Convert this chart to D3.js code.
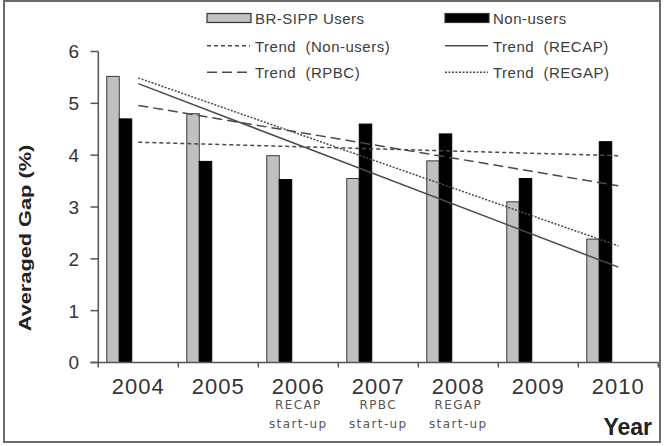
<!DOCTYPE html>
<html>
<head>
<meta charset="utf-8">
<script src="https://cdn.jsdelivr.net/npm/d3@7"></script>
<style>
  body { margin: 0; background: #fff; }
  text { font-family: "Liberation Sans", Arial, sans-serif; }
</style>
</head>
<body>
<div id="chart"></div>
<script>
// chart values
const years = ["2004", "2005", "2006", "2007", "2008", "2009", "2010"];
const startLabels = ["", "", "RECAP", "RPBC", "REGAP", "", ""];
const usersGap = [5.52, 4.8, 3.99, 3.55, 3.89, 3.1, 2.38];
const nonUsersGap = [4.7, 3.88, 3.53, 4.6, 4.41, 3.55, 4.26];
const trendNames = ["Trend (Non-users)", "Trend (RECAP)", "Trend (RPBC)", "Trend (REGAP)"];
const trendStart = [4.25, 5.38, 4.96, 5.49];
const trendEnd = [3.99, 1.84, 3.41, 2.25];
const yTicks = [0, 1, 2, 3, 4, 5, 6];

const W = 664, H = 446;
const dashes = {
  "Trend (Non-users)": "4,3",
  "Trend (RECAP)": null,
  "Trend (RPBC)": "10,5",
  "Trend (REGAP)": "2,1.5"
};

const svg = d3.select("#chart").append("svg")
  .attr("width", W).attr("height", H);

// outer frame
svg.append("rect")
  .attr("x", 4).attr("y", 1).attr("width", 656).attr("height", 441)
  .attr("fill", "#fff").attr("stroke", "#6a6a6a").attr("stroke-width", 2);

const x = d3.scaleBand().domain(years).range([98.3, 658.3]);
const y = d3.scaleLinear().domain([0, 6]).range([362.5, 51.5]);
const bw = x.bandwidth();
const barW = bw * 0.156;
const barOff = bw * 0.106;

// trend lines
const trendX = d3.scaleLinear().domain([0, years.length - 1])
  .range([x(years[0]) + bw / 2, x(years[years.length - 1]) + bw / 2]);

// bars
const g = svg.append("g");
g.selectAll("rect.users").data(usersGap).enter().append("rect")
  .attr("x", (d, i) => x(years[i]) + barOff)
  .attr("y", d => y(d))
  .attr("width", barW)
  .attr("height", d => y(0) - y(d))
  .attr("fill", "#c0c0c0").attr("stroke", "#3a3a3a").attr("stroke-width", 1);

g.selectAll("rect.non").data(nonUsersGap).enter().append("rect")
  .attr("x", (d, i) => x(years[i]) + barOff + barW)
  .attr("y", d => y(d))
  .attr("width", barW)
  .attr("height", d => y(0) - y(d))
  .attr("fill", "#000").attr("stroke", "#000").attr("stroke-width", 1);

trendNames.forEach((name, i) => {
  svg.append("line")
    .attr("x1", trendX(0)).attr("y1", y(trendStart[i]))
    .attr("x2", trendX(years.length - 1)).attr("y2", y(trendEnd[i]))
    .attr("stroke", "#4a4a4a").attr("stroke-width", 1.5)
    .attr("stroke-dasharray", dashes[name]);
});

// axes
const axisColor = "#555";
svg.append("line")
  .attr("x1", 98.3).attr("x2", 98.3).attr("y1", y(6)).attr("y2", y(0))
  .attr("stroke", axisColor).attr("stroke-width", 1.5);
svg.append("line")
  .attr("x1", 90.5).attr("x2", 658.3).attr("y1", y(0)).attr("y2", y(0))
  .attr("stroke", axisColor).attr("stroke-width", 1.5);

yTicks.forEach(t => {
  svg.append("line")
    .attr("x1", 90.5).attr("x2", 98.3).attr("y1", y(t)).attr("y2", y(t))
    .attr("stroke", axisColor).attr("stroke-width", 1.5);
  svg.append("text")
    .attr("x", 79).attr("y", y(t)).attr("dy", "0.36em")
    .attr("text-anchor", "end")
    .style("font-size", "19px").attr("fill", "#333")
    .text(t);
});

years.concat(["end"]).forEach((yr, i) => {
  const xx = 98.3 + i * bw;
  svg.append("line")
    .attr("x1", xx).attr("x2", xx).attr("y1", y(0)).attr("y2", y(0) + 5)
    .attr("stroke", axisColor).attr("stroke-width", 1.5);
});

years.forEach((yr, i) => {
  const cx = x(yr) + bw / 2;
  svg.append("text")
    .attr("x", cx).attr("y", 394)
    .attr("text-anchor", "middle")
    .style("font-size", "22px").style("letter-spacing", "1px").attr("fill", "#333")
    .text(yr);
  if (startLabels[i]) {
    [startLabels[i], "start-up"].forEach((s, k) => {
      svg.append("text")
        .attr("x", cx).attr("y", 409 + k * 18.5)
        .attr("text-anchor", "middle")
        .style("font-family", "'DejaVu Sans', sans-serif")
        .style("font-size", "12px").style("letter-spacing", "1.4px")
        .attr("fill", "#555")
        .text(s);
    });
  }
});

svg.append("text")
  .attr("x", 652).attr("y", 435)
  .attr("text-anchor", "end")
  .style("font-size", "23px").style("font-weight", "bold").attr("fill", "#222")
  .text("Year");

svg.append("text")
  .attr("transform", "translate(31,238) rotate(-90) scale(1.36,1)")
  .attr("text-anchor", "middle")
  .style("font-size", "16px").style("font-weight", "bold").attr("fill", "#222")
  .text("Averaged Gap (%)");

// legend
const legend = [
  { col: 0, row: 0, type: "box", fill: "#c0c0c0", label: "BR-SIPP Users" },
  { col: 1, row: 0, type: "box", fill: "#000", label: "Non-users" },
  { col: 0, row: 1, type: "line", name: trendNames[0] },
  { col: 1, row: 1, type: "line", name: trendNames[1] },
  { col: 0, row: 2, type: "line", name: trendNames[2] },
  { col: 1, row: 2, type: "line", name: trendNames[3] }
];
const colX = [207, 445];
const rowY = [18, 45.7, 72.2];
legend.forEach(d => {
  const lx = colX[d.col], ly = rowY[d.row];
  if (d.type === "box") {
    svg.append("rect")
      .attr("x", lx).attr("y", ly - 4.5).attr("width", 44).attr("height", 9)
      .attr("fill", d.fill).attr("stroke", "#333").attr("stroke-width", 1.2);
  } else {
    svg.append("line")
      .attr("x1", lx).attr("x2", lx + 43).attr("y1", ly).attr("y2", ly)
      .attr("stroke", "#4a4a4a").attr("stroke-width", 1.5)
      .attr("stroke-dasharray", dashes[d.name]);
  }
  svg.append("text")
    .attr("x", lx + (d.col === 0 ? 48 : 48)).attr("y", ly + 6)
    .style("font-size", "15px").style("letter-spacing", "0.5px")
    .style("white-space", "pre")
    .attr("fill", "#3c3c3c")
    .text(d.label || d.name.replace(" ", "  "));
});
</script>
</body>
</html>
